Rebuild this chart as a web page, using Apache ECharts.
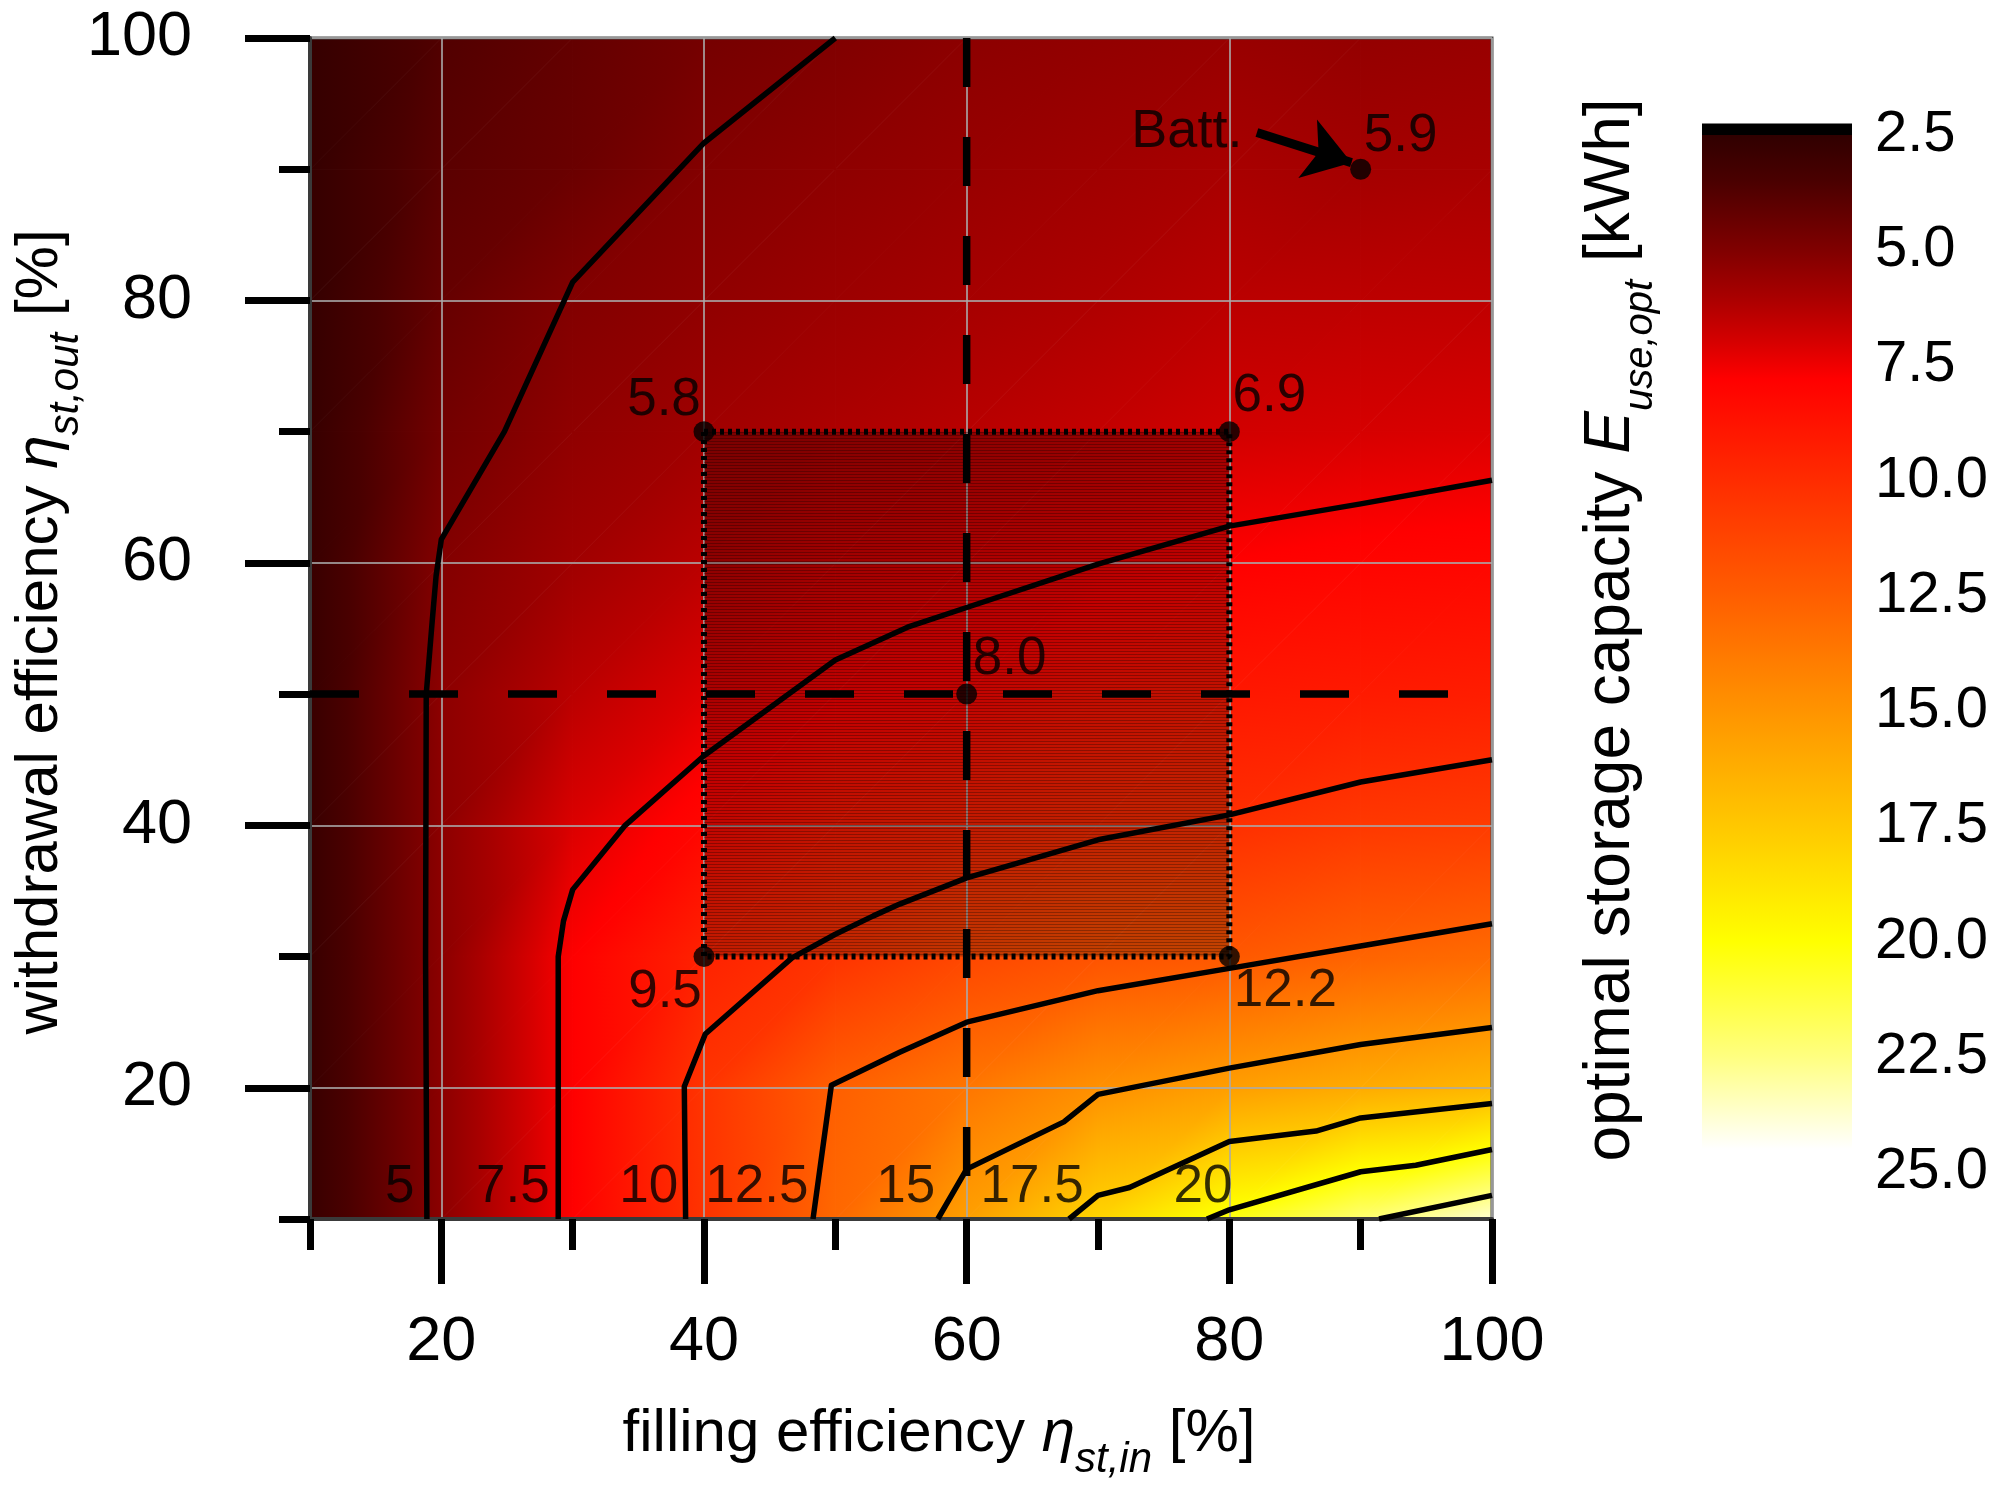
<!DOCTYPE html>
<html>
<head>
<meta charset="utf-8">
<script src="https://cdn.jsdelivr.net/npm/echarts@6/dist/echarts.min.js"></script>
<style>
  html, body { margin: 0; padding: 0; background: #fff; }
  #chart { width: 1997px; height: 1496px; }
</style>
</head>
<body>
<div id="chart"></div>
<script>
// grid nodes (filling / withdrawal efficiency in %)
var etaIn = [10, 20, 30, 40, 50, 60, 70, 80, 90, 100];
var etaOut = [10, 20, 30, 40, 50, 60, 70, 80, 90, 100];

// optimal storage capacity [kWh] at the nodes, one row per withdrawal efficiency
var cap10 = [2.8, 5.27, 7.78, 10.36, 12.95, 15.55, 18.08, 20.39, 22.2, 23.79];
var cap20 = [2.8, 5.28, 7.77, 10.39, 12.55, 13.62, 14.84, 15.49, 16.1, 16.64];
var cap30 = [2.8, 5.28, 7.78, 9.5, 10.37, 11.36, 11.93, 12.2, 12.75, 13.08];
var cap40 = [2.8, 5.3, 7.1, 8.1, 9.0, 9.43, 9.87, 10.16, 10.6, 10.76];
var cap50 = [2.8, 5.3, 6.4, 7.18, 7.68, 8.0, 8.6, 8.95, 9.1, 9.24];
var cap60 = [2.8, 5.05, 5.8, 6.4, 6.95, 7.24, 7.49, 7.82, 8.0, 8.1];
var cap70 = [2.75, 4.63, 5.4, 5.8, 6.1, 6.35, 6.6, 6.9, 7.0, 7.1];
var cap80 = [2.7, 4.25, 5.05, 5.4, 5.7, 5.95, 6.15, 6.4, 6.45, 6.5];
var cap90 = [2.7, 3.95, 4.4, 5.07, 5.35, 5.6, 5.8, 6.0, 5.9, 6.0];
var cap100 = [2.7, 3.7, 4.2, 4.7, 5.0, 5.3, 5.45, 5.6, 5.5, 5.6];
var capacity = [cap10, cap20, cap30, cap40, cap50, cap60, cap70, cap80, cap90, cap100];

// contour lines [etaIn, etaOut]
var levels = [5, 7.5, 10, 12.5, 15, 17.5, 20, 22.5];
var c5 = [[18.9, 10], [18.8, 30], [18.85, 50], [19.3, 55.5], [19.6, 59], [20, 61.8], [24.8, 70], [30, 81.4], [40, 92], [50, 100]];
var c75 = [[28.9, 10], [28.9, 30], [29.3, 32.7], [30, 35.1], [34, 40], [40, 45.3], [50, 52.6], [55.5, 55.1], [60, 56.6], [70, 59.9], [80, 62.8], [90, 64.5], [100, 66.3]];
var c10 = [[38.6, 10], [38.5, 20.1], [40.1, 24.1], [46.7, 29.9], [50, 31.7], [52.9, 33.1], [54.9, 34.0], [60, 36.0], [70, 38.9], [80, 40.8], [90, 43.3], [100, 45.0]];
var c125 = [[48.3, 10], [49.7, 20.2], [54.9, 22.7], [60, 25.0], [70, 27.4], [80, 29.1], [90, 30.8], [100, 32.5]];
var c15 = [[57.8, 10], [60, 13.8], [67.4, 17.4], [70, 19.5], [80, 21.5], [90, 23.3], [100, 24.6]];
var c175 = [[67.8, 10], [70, 11.8], [72.4, 12.4], [80, 15.9], [86.6, 16.7], [90, 17.7], [100, 18.8]];
var c20 = [[78.3, 10], [80, 10.7], [90, 13.6], [94.2, 14.1], [100, 15.3]];
var c225 = [[91.4, 10], [100, 11.8]];
var contours = [c5, c75, c10, c125, c15, c175, c20, c225];

// marked cases: 4 corners of the variation box, reference case, battery
var caseIn = [40, 80, 60, 40, 80, 90];
var caseOut = [70, 70, 50, 30, 30, 90];
var caseCap = [5.8, 6.9, 8.0, 9.5, 12.2, 5.9];

// battery annotation arrow [etaIn, etaOut], tip just before the dot
var battFrom = [82.1, 92.8];
var battTo = [89.3, 90.5];

// colour scale
var cbarTicks = [2.5, 5, 7.5, 10, 12.5, 15, 17.5, 20, 22.5, 25];
var cmapVal = [2.5, 3.5, 5, 6, 7, 7.8, 10, 12.5, 15, 17.5, 20, 22.5, 24.5];
var cmapCol = ['#300000', '#4a0000', '#800000', '#a80000', '#d60000', '#ff0000', '#ff2c00', '#ff5e00', '#ff9400', '#ffc800', '#ffff00', '#ffff80', '#ffffff'];

var FONT = 'Liberation Sans';

function hexRgb(h) {
  return [parseInt(h.substr(1, 2), 16), parseInt(h.substr(3, 2), 16), parseInt(h.substr(5, 2), 16)];
}
function colorAt(v) {
  if (v <= cmapVal[0]) return cmapCol[0];
  for (var k = 1; k < cmapVal.length; k++) {
    if (v <= cmapVal[k]) {
      var t = (v - cmapVal[k - 1]) / (cmapVal[k] - cmapVal[k - 1]);
      var a = hexRgb(cmapCol[k - 1]), b = hexRgb(cmapCol[k]);
      return 'rgb(' + Math.round(a[0] + (b[0] - a[0]) * t) + ',' + Math.round(a[1] + (b[1] - a[1]) * t) + ',' + Math.round(a[2] + (b[2] - a[2]) * t) + ')';
    }
  }
  return cmapCol[cmapCol.length - 1];
}

// linear shading of one triangle -> gradient along the value gradient
function shadeFill(A, B, C) {
  var x0 = A.p[0], y0 = A.p[1];
  var dx1 = B.p[0] - x0, dy1 = B.p[1] - y0, dx2 = C.p[0] - x0, dy2 = C.p[1] - y0;
  var dv1 = B.v - A.v, dv2 = C.v - A.v;
  var det = dx1 * dy2 - dx2 * dy1;
  var gx = (dv1 * dy2 - dv2 * dy1) / det, gy = (dx1 * dv2 - dx2 * dv1) / det;
  var g2 = gx * gx + gy * gy;
  var vmin = Math.min(A.v, B.v, C.v), vmax = Math.max(A.v, B.v, C.v);
  if (g2 < 1e-12 || vmax - vmin < 1e-6) return colorAt(A.v);
  var s0 = (vmin - A.v) / g2, s1 = (vmax - A.v) / g2;
  var stops = [{offset: 0, color: colorAt(vmin)}];
  cmapVal.forEach(function (v, k) {
    if (v > vmin && v < vmax) stops.push({offset: (v - vmin) / (vmax - vmin), color: cmapCol[k]});
  });
  stops.push({offset: 1, color: colorAt(vmax)});
  return new echarts.graphic.LinearGradient(x0 + gx * s0, y0 + gy * s0, x0 + gx * s1, y0 + gy * s1, stops, true);
}
function triangle(A, B, C) {
  var fill = shadeFill(A, B, C);
  return {type: 'polygon', shape: {points: [A.p, B.p, C.p]}, style: {fill: fill, stroke: fill, lineWidth: 1}};
}

var cells = [];
for (var j = 0; j < etaOut.length - 1; j++) {
  for (var i = 0; i < etaIn.length - 1; i++) cells.push([i, j]);
}

// stripes for the shaded variation box
var hatch = document.createElement('canvas');
hatch.width = 4; hatch.height = 3;
var hc = hatch.getContext('2d');
hc.fillStyle = 'rgba(0,0,0,0.24)'; hc.fillRect(0, 0, 4, 3);
hc.fillStyle = 'rgba(0,0,0,0.28)'; hc.fillRect(0, 0, 4, 1);

var boxIn = [Math.min(caseIn[0], caseIn[3]), Math.max(caseIn[1], caseIn[4])];
var boxOut = [Math.min(caseOut[3], caseOut[4]), Math.max(caseOut[0], caseOut[1])];
var refIn = caseIn[2], refOut = caseOut[2];

// label offsets for the cases (px, from the dot centre)
var caseLabelOffset = [[-40, -31], [40, -35], [43, -35], [-39, 36], [56, 35], [40, -33]];
// contour label shift (px, right edge relative to the contour foot)
var contourLabelShift = [-12, -8, -7, -4, -2, 15, 26];

// title helper: pieces of text along one baseline, subscripts lowered
var mctx = document.createElement('canvas').getContext('2d');
function titleGroup(parts, x, y, rotate) {
  var cursor = 0, children = [];
  parts.forEach(function (p) {
    mctx.font = (p.italic ? 'italic ' : '') + p.size + 'px "' + FONT + '"';
    var w = mctx.measureText(p.t).width;
    children.push({
      type: 'text', x: cursor, y: (p.sub ? 0.33 * parts[0].size : 0) - 0.35 * p.size,
      style: {text: p.t, fontSize: p.size, fontFamily: FONT, fontStyle: p.italic ? 'italic' : 'normal',
        fill: '#000', align: 'left', verticalAlign: 'middle'}
    });
    cursor += w;
  });
  if (rotate) {
    return {type: 'group', x: x, y: y + cursor / 2, rotation: Math.PI / 2, children: children};
  }
  return {type: 'group', x: x - cursor / 2, y: y, children: children};
}

var tickStyle = {color: '#000', width: 7};
var plotAxisLine = {show: true, onZero: false, lineStyle: {color: '#3a3a3a', width: 4}};

var chart = echarts.init(document.getElementById('chart'));
chart.setOption({
  animation: false,
  backgroundColor: '#fff',
  grid: [
    {left: 310, top: 38, width: 1182, height: 1181, show: true, borderColor: '#4d4d4d', borderWidth: 3, backgroundColor: 'transparent'},
    {left: 1702, top: 135, width: 150, height: 1037}
  ],
  xAxis: [
    {gridIndex: 0, type: 'value', min: 10, max: 100, interval: 10, position: 'bottom',
      axisLine: plotAxisLine,
      axisTick: {show: true, length: 65, customValues: [20, 40, 60, 80, 100], lineStyle: tickStyle},
      axisLabel: {customValues: [20, 40, 60, 80, 100], margin: 92, fontSize: 63, color: '#000', fontFamily: FONT},
      splitLine: {show: true, lineStyle: {color: 'rgba(170,170,170,0.8)', width: 2}}},
    {gridIndex: 0, type: 'value', min: 10, max: 100, interval: 10, position: 'bottom',
      axisLine: {show: false},
      axisTick: {show: true, length: 31, customValues: [10, 30, 50, 70, 90], lineStyle: tickStyle},
      axisLabel: {show: false}, splitLine: {show: false}},
    {gridIndex: 1, type: 'value', min: 0, max: 1, show: false}
  ],
  yAxis: [
    {gridIndex: 0, type: 'value', min: 10, max: 100, interval: 10, position: 'left',
      axisLine: plotAxisLine,
      axisTick: {show: true, length: 65, customValues: [20, 40, 60, 80, 100], lineStyle: tickStyle},
      axisLabel: {customValues: [20, 40, 60, 80, 100], margin: 118, fontSize: 63, color: '#000', fontFamily: FONT},
      splitLine: {show: true, lineStyle: {color: 'rgba(170,170,170,0.8)', width: 2}}},
    {gridIndex: 0, type: 'value', min: 10, max: 100, interval: 10, position: 'left',
      axisLine: {show: false},
      axisTick: {show: true, length: 31, customValues: [10, 30, 50, 70, 90], lineStyle: tickStyle},
      axisLabel: {show: false}, splitLine: {show: false}},
    {gridIndex: 1, type: 'value', min: cbarTicks[0], max: cbarTicks[cbarTicks.length - 1], interval: 2.5,
      inverse: true, position: 'right',
      axisLine: {show: false}, axisTick: {show: false}, splitLine: {show: false},
      axisLabel: {margin: 23, fontSize: 58, color: '#000', fontFamily: FONT,
        formatter: function (v) { return v.toFixed(1); }}}
  ],
  graphic: [
    titleGroup([
      {t: 'filling efficiency ', size: 60},
      {t: 'η', size: 60, italic: true},
      {t: 'st,in', size: 42, italic: true, sub: true},
      {t: ' [%]', size: 60}
    ], 939, 1455, false),
    titleGroup([
      {t: 'withdrawal efficiency ', size: 60},
      {t: 'η', size: 60, italic: true},
      {t: 'st,out', size: 42, italic: true, sub: true},
      {t: ' [%]', size: 60}
    ], 61, 632, true),
    titleGroup([
      {t: 'optimal storage capacity ', size: 64},
      {t: 'E', size: 64, italic: true},
      {t: 'use,opt', size: 40, italic: true, sub: true},
      {t: ' [kWh]', size: 64}
    ], 1634, 630, true)
  ],
  series: [
    {
      name: 'capacity field', type: 'custom', xAxisIndex: 0, yAxisIndex: 0, z: -1,
      data: cells, silent: true,
      renderItem: function (params, api) {
        var a = api.value(0), b = api.value(1);
        function node(ix, iy) {
          return {p: api.coord([etaIn[ix], etaOut[iy]]), v: capacity[iy][ix]};
        }
        var p00 = node(a, b), p10 = node(a + 1, b), p11 = node(a + 1, b + 1), p01 = node(a, b + 1);
        return {type: 'group', children: [triangle(p00, p10, p11), triangle(p00, p11, p01)]};
      }
    },
    {
      name: 'variation box', type: 'custom', xAxisIndex: 0, yAxisIndex: 0, z: 2, silent: true,
      data: [[boxIn[0], boxOut[1], boxIn[1], boxOut[0]]],
      renderItem: function (params, api) {
        var p0 = api.coord([api.value(0), api.value(1)]);
        var p1 = api.coord([api.value(2), api.value(3)]);
        return {type: 'rect', shape: {x: p0[0], y: p0[1], width: p1[0] - p0[0], height: p1[1] - p0[1]},
          style: {fill: {image: hatch, repeat: 'repeat'}}};
      }
    },
    {
      type: 'line', xAxisIndex: 0, yAxisIndex: 0, z: 3, symbol: 'none', silent: true,
      data: [[refIn, 100], [refIn, 10]],
      lineStyle: {color: '#000', width: 7.5, type: [49, 50]}
    },
    {
      type: 'line', xAxisIndex: 0, yAxisIndex: 0, z: 3, symbol: 'none', silent: true,
      data: [[10, refOut], [100, refOut]],
      lineStyle: {color: '#000', width: 7.5, type: [49, 50]}
    }
  ].concat(contours.map(function (c, k) {
    return {
      name: 'E = ' + levels[k], type: 'line', xAxisIndex: 0, yAxisIndex: 0, z: 4,
      symbol: 'none', silent: true, data: c,
      lineStyle: {color: '#000', width: 5.5, join: 'round'}
    };
  })).concat([
    {
      type: 'scatter', xAxisIndex: 0, yAxisIndex: 0, z: 5, symbolSize: 1, silent: true,
      itemStyle: {color: 'rgba(0,0,0,0)'},
      data: contours.slice(0, 7).map(function (c, k) {
        return {value: c[0], label: {show: true, position: 'left', distance: 0,
          offset: [contourLabelShift[k], -32], formatter: String(levels[k]),
          fontSize: 53, color: '#000', fontFamily: FONT}};
      })
    },
    {
      type: 'line', xAxisIndex: 0, yAxisIndex: 0, z: 5, symbol: 'none', silent: true,
      data: [[boxIn[0], boxOut[1]], [boxIn[1], boxOut[1]], [boxIn[1], boxOut[0]], [boxIn[0], boxOut[0]], [boxIn[0], boxOut[1]]],
      lineStyle: {color: '#000', width: 6, type: [4, 4]}
    },
    {
      type: 'lines', coordinateSystem: 'cartesian2d', xAxisIndex: 0, yAxisIndex: 0, z: 6, silent: true,
      symbol: ['none', 'arrow'], symbolSize: 46,
      lineStyle: {color: '#000', width: 9, opacity: 1, curveness: 0},
      data: [{coords: [battFrom, battTo]}]
    },
    {
      type: 'scatter', xAxisIndex: 0, yAxisIndex: 0, z: 6, symbolSize: 1, silent: true,
      itemStyle: {color: 'rgba(0,0,0,0)'},
      data: [{value: battFrom, label: {show: true, position: 'left', distance: 14, formatter: 'Batt.',
        fontSize: 54, color: '#000', fontFamily: FONT}}]
    },
    {
      type: 'scatter', xAxisIndex: 0, yAxisIndex: 0, z: 7, symbol: 'circle', symbolSize: 21, silent: true,
      itemStyle: {color: '#000'},
      data: caseIn.map(function (x, k) {
        return {value: [x, caseOut[k], caseCap[k]], label: {show: true, position: 'inside',
          offset: caseLabelOffset[k], formatter: caseCap[k].toFixed(1),
          fontSize: 53, color: '#000', fontFamily: FONT}};
      })
    },
    {
      name: 'colour bar', type: 'custom', xAxisIndex: 2, yAxisIndex: 2, silent: true,
      data: [[0, cmapVal[0], 1, cmapVal[cmapVal.length - 1]]],
      renderItem: function (params, api) {
        var p0 = api.coord([api.value(0), api.value(1)]);
        var p1 = api.coord([api.value(2), api.value(3)]);
        var band = api.coord([0, 2.25]);
        var lo = api.value(1), hi = api.value(3);
        var stops = cmapVal.map(function (v, k) { return {offset: (v - lo) / (hi - lo), color: cmapCol[k]}; });
        return {type: 'group', children: [
          {type: 'rect', shape: {x: p0[0], y: band[1], width: p1[0] - p0[0], height: p0[1] - band[1] + 1}, style: {fill: '#000'}},
          {type: 'rect', shape: {x: p0[0], y: p0[1], width: p1[0] - p0[0], height: p1[1] - p0[1]},
            style: {fill: new echarts.graphic.LinearGradient(0, p0[1], 0, p1[1], stops, true)}}
        ]};
      }
    }
  ])
});
</script>
</body>
</html>
